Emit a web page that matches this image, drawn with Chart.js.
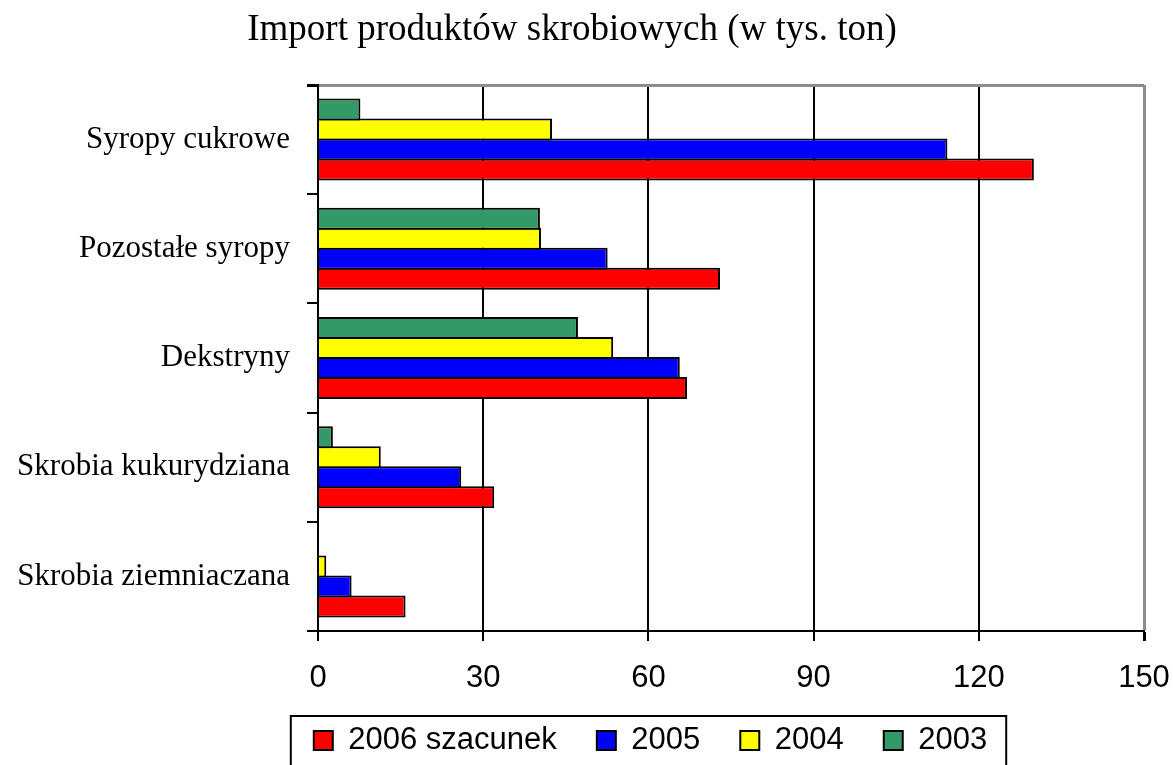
<!DOCTYPE html>
<html lang="pl">
<head>
<meta charset="utf-8">
<title>Import produktów skrobiowych</title>
<script src="https://cdn.jsdelivr.net/npm/chart.js"></script>
<style>
  body { margin: 0; background: #fff; }
  canvas { display: block; }
</style>
</head>
<body>
<canvas id="importChart" width="1173" height="765"></canvas>
<script>
// data (tys. ton)
const categories = ['Syropy cukrowe', 'Pozostałe syropy', 'Dekstryny', 'Skrobia kukurydziana', 'Skrobia ziemniaczana'];
const years = ['2003', '2004', '2005', '2006 szacunek'];
const values2003 = [7.7, 40.3, 47.2, 2.7, 0.2];
const values2004 = [42.5, 40.5, 53.6, 11.4, 1.5];
const values2005 = [114.3, 52.6, 65.7, 26.0, 6.1];
const values2006 = [130.0, 73.0, 67.0, 32.0, 15.9];
const xTicks = [0, 30, 60, 90, 120, 150];
const colors = ['#339966', '#FFFF00', '#0000FF', '#FF0000'];

const series = [values2003, values2004, values2005, values2006];

Chart.defaults.font.family = 'Liberation Sans';
Chart.defaults.color = '#000';

// moves the legend under the axis and draws the frame round it
const legendFrame = {
  id: 'legendFrame',
  afterLayout(chart) {
    const lg = chart.legend;
    lg.left = 250;
    lg.right = 1051;
    lg.top = 685;
    lg.bottom = 765;
    lg.width = lg.right - lg.left;
    lg.height = lg.bottom - lg.top;
  },
  afterDraw(chart) {
    const boxes = chart.legend.legendHitBoxes;
    if (!boxes || !boxes.length) return;
    let minX = Infinity, maxX = -Infinity;
    boxes.forEach(b => {
      minX = Math.min(minX, b.left);
      maxX = Math.max(maxX, b.left + b.width);
    });
    const ctx = chart.ctx;
    ctx.save();
    ctx.strokeStyle = '#000';
    ctx.lineWidth = 2;
    ctx.strokeRect(minX - 23, chart.legend.top + 31, maxX - minX + 42, 100);
    ctx.restore();
  }
};

const ctx = document.getElementById('importChart').getContext('2d');

new Chart(ctx, {
  type: 'bar',
  data: {
    labels: categories,
    datasets: years.map((y, i) => ({
      label: y,
      data: series[i],
      backgroundColor: colors[i],
      borderColor: '#000',
      borderWidth: 2,
      barPercentage: 1.1,
      categoryPercentage: 0.7326
    }))
  },
  options: {
    indexAxis: 'y',
    responsive: false,
    animation: false,
    events: [],
    layout: { padding: { left: 0, right: 29, top: 0, bottom: -17 } },
    plugins: {
      title: {
        display: true,
        text: 'Import produktów skrobiowych (w tys. ton)',
        font: { family: 'Liberation Serif', size: 37, weight: 'normal' },
        color: '#000',
        padding: { top: 8, bottom: 32.6 }
      },
      legend: {
        position: 'bottom',
        reverse: true,
        labels: {
          font: { size: 31 },
          boxWidth: 19,
          boxHeight: 19,
          padding: 40,
          color: '#000'
        }
      },
      tooltip: { enabled: false }
    },
    scales: {
      x: {
        min: 0,
        max: 150,
        afterBuildTicks: scale => { scale.ticks = xTicks.map(v => ({ value: v })); },
        afterFit: scale => {
          scale.height = 70;
          scale.paddingLeft = 0;
          scale.paddingRight = 0;
        },
        ticks: {
          font: { size: 31 },
          color: '#000',
          padding: 19,
          maxRotation: 0,
          autoSkip: false
        },
        grid: {
          color: c => (c.tick && c.tick.value === 150 ? '#8c8c8c' : '#000'),
          lineWidth: c => (c.tick && c.tick.value === 150 ? 3 : 2),
          tickColor: '#000',
          tickLength: 10
        },
        border: { color: '#000', width: 2 }
      },
      y: {
        afterFit: scale => {
          scale.width = 318;
          scale.paddingTop = 0;
          scale.paddingBottom = 0;
        },
        ticks: {
          font: { family: 'Liberation Serif', size: 31 },
          color: '#000',
          padding: 17
        },
        grid: {
          offset: true,
          color: c => (c.index === 0 ? '#8c8c8c' : 'rgba(0,0,0,0)'),
          lineWidth: c => (c.index === 0 ? 3 : 2),
          tickColor: '#000',
          tickLength: 11
        },
        border: { color: '#000', width: 2 }
      }
    }
  },
  plugins: [legendFrame]
});
</script>
</body>
</html>
